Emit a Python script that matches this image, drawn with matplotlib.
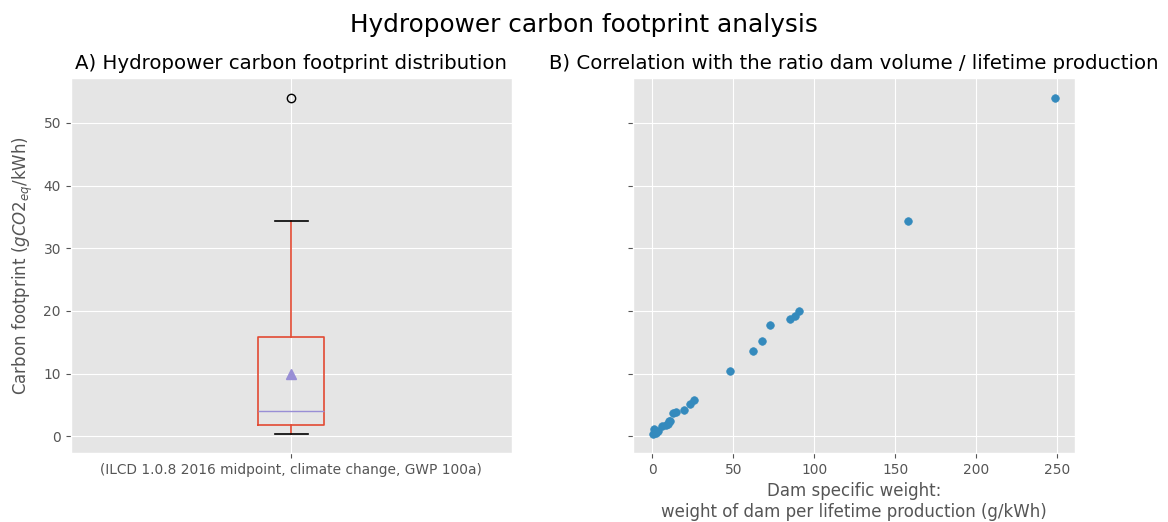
import matplotlib
matplotlib.use('Agg')
import matplotlib.pyplot as plt
import numpy as np

plt.style.use('ggplot')
plt.rcParams['font.size'] = 9.9

# empreinte carbone (gCO2eq/kWh) et poids spécifique du barrage (g/kWh)
dam_weight = [0.6, 2.5, 1.8, 3.5, 1.2, 6.1, 8.6, 9.6, 11.1, 10.4,
              12.5, 14.3, 19.5, 23.2, 25.6,
              47.7, 61.8, 67.8, 72.3, 84.8, 88.3, 90.7, 157.7, 248.2]
carbon = [0.37, 0.45, 0.6, 0.85, 1.1, 1.6, 1.81, 2.0, 2.35, 2.5,
          3.7, 3.8, 4.2, 5.06, 5.75,
          10.37, 13.6, 15.2, 17.8, 18.7, 19.15, 20.0, 34.4, 54.0]
method_label = '(ILCD 1.0.8 2016 midpoint, climate change, GWP 100a)'

fig, (ax1, ax2) = plt.subplots(1, 2, sharey=True, figsize=(11.68, 5.22), dpi=100)
fig.subplots_adjust(left=0.0605, right=0.920, bottom=0.132, top=0.851, wspace=0.275)

ax1.boxplot([carbon], showmeans=True, tick_labels=[method_label],
            boxprops=dict(color='#E24A33', linewidth=1.2),
            whiskerprops=dict(color='#E24A33', linewidth=1.2),
            medianprops=dict(color='#988ED5'),
            capprops=dict(color='k', linewidth=1.2),
            meanprops=dict(markersize=7))
ax1.set_title('A) Hydropower carbon footprint distribution', fontsize=14.2)
ax1.set_ylabel(r'Carbon footprint ($gCO2_{eq}$/kWh)', fontsize=12, labelpad=6)

ax2.scatter(dam_weight, carbon, s=30, color='#348ABD')
ax2.set_title('B) Correlation with the ratio dam volume / lifetime production', fontsize=14.2)
ax2.set_xlabel('Dam specific weight:\nweight of dam per lifetime production (g/kWh)', fontsize=12)
ax2.set_xticks([0, 50, 100, 150, 200, 250])
ax2.set_yticks([0, 10, 20, 30, 40, 50])
ax2.set_ylim(-2.7, 57.2)

fig.suptitle('Hydropower carbon footprint analysis', fontsize=17.8, y=0.975)

fig.savefig('out.png', dpi=100)
